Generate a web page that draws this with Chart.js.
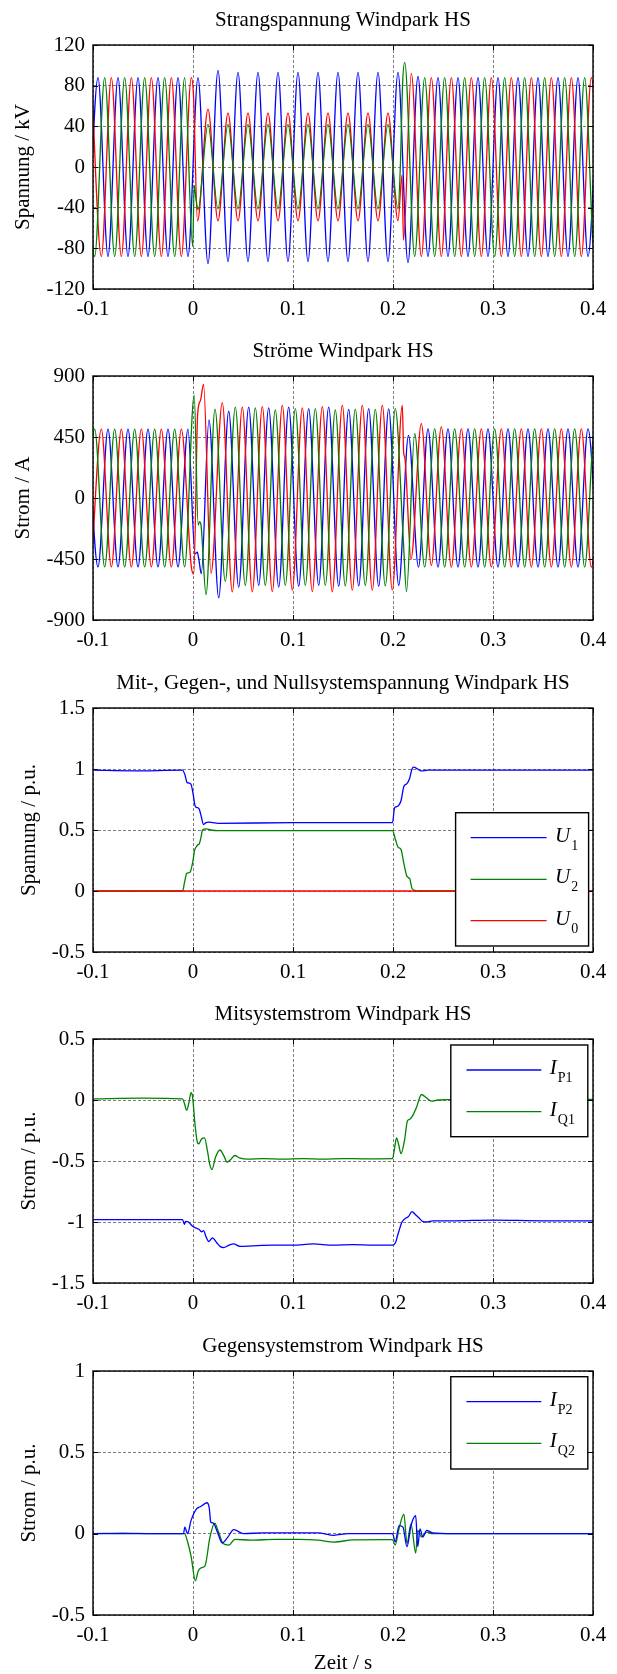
<!DOCTYPE html>
<html><head><meta charset="utf-8">
<script src="https://cdn.jsdelivr.net/npm/chart.js@4/dist/chart.umd.min.js"></script>
<style>
html,body{margin:0;padding:0;background:#fff;overflow:hidden;width:617px;height:1674px;position:relative;}
canvas{position:absolute;left:0;}
</style></head><body>
<canvas id="c1" width="617" height="331" style="top:0px;width:617px;height:331px"></canvas>
<canvas id="c2" width="617" height="332" style="top:331px;width:617px;height:332px"></canvas>
<canvas id="c3" width="617" height="331" style="top:663px;width:617px;height:331px"></canvas>
<canvas id="c4" width="617" height="332" style="top:994px;width:617px;height:332px"></canvas>
<canvas id="c5" width="617" height="348" style="top:1326px;width:617px;height:348px"></canvas>
<script>
// ---------- shared axis ticks ----------
const xTicks = [-0.1, 0, 0.1, 0.2, 0.3, 0.4];
const yTicks1 = [-120, -80, -40, 0, 40, 80, 120];
const yTicks2 = [-900, -450, 0, 450, 900];
const yTicks3 = [-0.5, 0, 0.5, 1, 1.5];
const yTicks4 = [-1.5, -1, -0.5, 0, 0.5];
const yTicks5 = [-0.5, 0, 0.5, 1];

// ---------- plot 1: Strangspannung (extrema of each phase, kV) ----------
const v1BlueT = [-0.105,-0.095,-0.085,-0.075,-0.065,-0.055,-0.045,-0.035,-0.025,-0.015,-0.005,0.005,0.015,0.025,0.035,0.045,0.055,0.065,0.075,0.085,0.095,0.105,0.115,0.125,0.135,0.145,0.155,0.165,0.175,0.185,0.195,0.205,0.215,0.225,0.235,0.245,0.255,0.265,0.275,0.285,0.295,0.305,0.315,0.325,0.335,0.345,0.355,0.365,0.375,0.385,0.395,0.405];
const v1BlueV = [-88,88,-88,88,-88,88,-88,88,-88,88,-88,88,-95,95,-93,93,-93,93,-93,93,-93,93,-93,93,-93,93,-93,93,-93,93,-93,93,-94,89,-88,88,-88,88,-88,88,-88,88,-88,88,-88,88,-88,88,-88,88,-88,88];
const v1RedT = [-0.10167,-0.09167,-0.08167,-0.07167,-0.06167,-0.05167,-0.04167,-0.03167,-0.02167,-0.01167,-0.00167,0.0005,0.0045,0.015,0.025,0.035,0.045,0.055,0.065,0.075,0.085,0.095,0.105,0.115,0.125,0.135,0.145,0.155,0.165,0.175,0.185,0.195,0.205,0.209,0.2105,0.2183,0.22833,0.23833,0.24833,0.25833,0.26833,0.27833,0.28833,0.29833,0.30833,0.31833,0.32833,0.33833,0.34833,0.35833,0.36833,0.37833,0.38833,0.39833,0.40833];
const v1RedV = [88,-88,88,-88,88,-88,88,-88,88,-88,88,70,-53,57,-53,53,-53,53,-53,53,-53,53,-53,53,-53,53,-53,53,-53,53,-53,53,-53,-8,-72,92,-88,88,-88,88,-88,88,-88,88,-88,88,-88,88,-88,88,-88,88,-88,88,-88];
const v1GreenT = [-0.10833,-0.09833,-0.08833,-0.07833,-0.06833,-0.05833,-0.04833,-0.03833,-0.02833,-0.01833,-0.00833,-0.0003,0.0012,0.0028,0.005,0.015,0.025,0.035,0.045,0.055,0.065,0.075,0.085,0.095,0.105,0.115,0.125,0.135,0.145,0.155,0.165,0.175,0.185,0.195,0.205,0.2075,0.2095,0.2117,0.22167,0.23167,0.24167,0.25167,0.26167,0.27167,0.28167,0.29167,0.30167,0.31167,0.32167,0.33167,0.34167,0.35167,0.36167,0.37167,0.38167,0.39167,0.40167,0.41167];
const v1GreenV = [88,-88,88,-88,88,-88,88,-88,88,-88,88,-78,-18,-30,-42,42,-41,42,-41,42,-41,42,-41,42,-41,42,-41,42,-41,42,-41,42,-41,42,-41,5,80,103,-88,88,-88,88,-88,88,-88,88,-88,88,-88,88,-88,88,-88,88,-88,88,-88,88];

// ---------- plot 2: Ströme (extrema of each phase, A) ----------
const i2BlueT = [-0.105,-0.095,-0.085,-0.075,-0.065,-0.055,-0.045,-0.035,-0.025,-0.015,-0.005,0.002,0.0043,0.006,0.0083,0.016,0.0257,0.0357,0.0457,0.0557,0.0657,0.0757,0.0857,0.0957,0.1057,0.1157,0.1257,0.1357,0.1457,0.1557,0.1657,0.1757,0.1857,0.1957,0.2057,0.2155,0.2255,0.235,0.245,0.255,0.265,0.275,0.285,0.295,0.305,0.315,0.325,0.335,0.345,0.355,0.365,0.375,0.385,0.395,0.405];
const i2BlueV = [508,-508,508,-508,508,-508,508,-508,508,-508,508,-410,-400,-460,-558,577,-737,640,-657,671,-645,665,-657,670,-650,660,-645,670,-650,654,-648,660,-650,658,-645,462,-509,510,-510,510,-510,510,-510,510,-510,510,-510,510,-510,510,-510,510,-510,510,-510];
const i2RedT = [-0.10167,-0.09167,-0.08167,-0.07167,-0.06167,-0.05167,-0.04167,-0.03167,-0.02167,-0.01167,-0.00167,0.0008,0.0047,0.0075,0.0105,0.018,0.0293,0.0393,0.0493,0.0593,0.0693,0.0793,0.0893,0.0993,0.1093,0.1193,0.1293,0.1393,0.1493,0.1593,0.1693,0.1793,0.1893,0.1993,0.2093,0.2107,0.2118,0.218,0.22833,0.23833,0.24833,0.25833,0.26833,0.27833,0.28833,0.29833,0.30833,0.31833,0.32833,0.33833,0.34833,0.35833,0.36833,0.37833,0.38833,0.39833,0.40833];
const i2RedV = [-508,508,-508,508,-508,508,-508,508,-508,508,-508,-560,622,720,838,-555,703,-693,671,-693,674,-690,684,-680,665,-690,674,-693,684,-680,684,-680,684,-679,684,330,300,-450,548,-497,524,-510,510,-510,510,-510,510,-510,510,-510,510,-510,510,-510,510,-510,510];
const i2GreenT = [-0.10833,-0.09833,-0.08833,-0.07833,-0.06833,-0.05833,-0.04833,-0.03833,-0.02833,-0.01833,-0.00833,0.0012,0.0052,0.0065,0.0078,0.013,0.022,0.0323,0.0423,0.0523,0.0623,0.0723,0.0823,0.0923,0.1023,0.1123,0.1223,0.1323,0.1423,0.1523,0.1623,0.1723,0.1823,0.1923,0.2023,0.2103,0.2135,0.22167,0.23167,0.24167,0.25167,0.26167,0.27167,0.28167,0.29167,0.30167,0.31167,0.32167,0.33167,0.34167,0.35167,0.36167,0.37167,0.38167,0.39167,0.40167,0.41167];
const i2GreenV = [-508,508,-508,508,-508,508,-508,508,-508,508,-508,758,-200,-175,-190,-713,656,-615,671,-645,665,-645,649,-645,660,-645,660,-645,649,-648,655,-645,654,-648,660,-310,-690,474,-510,510,-510,510,-510,510,-510,510,-510,510,-510,510,-510,510,-510,510,-510,510,-510];

// ---------- plot 3: Mit-, Gegen-, Nullsystemspannung (p.u.) ----------
const u1T = [-0.1,-0.06,-0.0105,-0.008,-0.006,-0.004,-0.002,0,0.002,0.0035,0.006,0.008,0.0105,0.013,0.016,0.02,0.025,0.1,0.1995,0.2015,0.203,0.2055,0.208,0.211,0.214,0.2165,0.219,0.2207,0.2247,0.228,0.235,0.4];
const u1V = [0.99,0.985,0.99,0.95,0.89,0.885,0.875,0.80,0.70,0.685,0.675,0.62,0.545,0.56,0.565,0.56,0.555,0.56,0.56,0.68,0.69,0.70,0.74,0.86,0.88,0.92,1.0,1.015,1.0,0.985,0.99,0.99];
const u2T = [-0.1,-0.0103,-0.0085,-0.0062,-0.004,-0.0025,0,0.0015,0.0044,0.0064,0.008,0.0095,0.013,0.018,0.025,0.1,0.1995,0.2025,0.205,0.208,0.211,0.214,0.2168,0.219,0.222,0.226,0.4];
const u2V = [0,0,0.07,0.145,0.15,0.16,0.25,0.33,0.375,0.39,0.44,0.5,0.51,0.5,0.495,0.495,0.495,0.42,0.36,0.34,0.22,0.12,0.1,0.02,0.005,0,0];
const u0T = [-0.1, 0.4];
const u0V = [0, 0];

// ---------- plot 4: Mitsystemstrom (p.u.) ----------
const ip1T = [-0.1,-0.05,-0.0105,-0.0085,-0.0075,-0.0045,-0.001,0.003,0.006,0.0085,0.0105,0.013,0.0158,0.0195,0.0237,0.027,0.0305,0.036,0.0405,0.047,0.06,0.08,0.1,0.12,0.14,0.16,0.18,0.1995,0.2025,0.205,0.209,0.2125,0.2155,0.219,0.2225,0.2258,0.2295,0.2335,0.24,0.26,0.3,0.35,0.4];
const ip1V = [-0.98,-0.98,-0.98,-1.02,-0.995,-1.0,-1.03,-1.05,-1.06,-1.08,-1.07,-1.12,-1.16,-1.13,-1.17,-1.2,-1.21,-1.19,-1.18,-1.2,-1.195,-1.19,-1.19,-1.18,-1.19,-1.185,-1.19,-1.19,-1.17,-1.1,-1.0,-0.97,-0.955,-0.915,-0.94,-0.965,-0.995,-1.0,-0.99,-0.99,-0.985,-0.99,-0.99];
const iq1T = [-0.1,-0.05,-0.0105,-0.0085,-0.0063,-0.004,-0.002,-0.0005,0.002,0.0045,0.0058,0.0085,0.0115,0.0145,0.0168,0.019,0.0225,0.0268,0.031,0.034,0.0375,0.0418,0.0465,0.055,0.07,0.09,0.11,0.13,0.15,0.17,0.1995,0.2015,0.2035,0.2055,0.208,0.2115,0.2145,0.2165,0.2195,0.2235,0.2285,0.233,0.2384,0.245,0.27,0.32,0.4];
const iq1V = [0.01,0.015,0.01,-0.03,-0.085,-0.02,0.06,0.03,-0.2,-0.35,-0.36,-0.32,-0.31,-0.42,-0.53,-0.57,-0.47,-0.41,-0.46,-0.51,-0.49,-0.455,-0.475,-0.485,-0.48,-0.485,-0.48,-0.485,-0.48,-0.482,-0.48,-0.40,-0.31,-0.36,-0.44,-0.33,-0.17,-0.16,-0.13,-0.06,0.045,0.02,-0.01,0.0,0.005,0.005,0.005];

// ---------- plot 5: Gegensystemstrom (p.u.) ----------
const ip2T = [-0.1,-0.07,-0.04,-0.0095,-0.0082,-0.0068,-0.0054,-0.002,0.0032,0.0072,0.0119,0.0139,0.0162,0.0178,0.0202,0.025,0.0292,0.035,0.0407,0.0505,0.07,0.1,0.125,0.141,0.155,0.19,0.1995,0.2022,0.2061,0.21,0.214,0.218,0.2227,0.2247,0.227,0.2298,0.2337,0.2396,0.26,0.3,0.35,0.4];
const ip2V = [0,0,0,0.0,0.04,0.02,0.0,0.08,0.15,0.165,0.185,0.19,0.16,0.07,0.065,0.0,-0.057,-0.02,0.025,0.0,0.005,0.005,0.005,-0.01,0.0,0.0,0.0,-0.05,0.05,0.04,-0.08,0.05,0.11,-0.08,0.03,-0.02,0.02,0.005,0,0,0,0];
const iq2T = [-0.1,-0.07,-0.04,-0.0086,-0.0054,-0.0019,0.0024,0.0052,0.008,0.0119,0.017,0.0217,0.025,0.03,0.036,0.0418,0.058,0.082,0.1057,0.125,0.141,0.16,0.196,0.1995,0.2022,0.206,0.2109,0.214,0.218,0.2227,0.2247,0.2286,0.2337,0.2396,0.27,0.32,0.4];
const iq2V = [0,0.003,0,0,-0.05,-0.14,-0.29,-0.23,-0.21,-0.2,-0.02,0.065,0.02,-0.06,-0.07,-0.035,-0.04,-0.035,-0.035,-0.04,-0.052,-0.038,-0.037,-0.037,-0.07,0.03,0.12,-0.06,0.06,-0.12,0.02,-0.02,0.01,0,0,0,0];

// ---------- legend labels ----------
const legend3Main = ['U', 'U', 'U'];
const legend3Sub = ['1', '2', '0'];
const legend4Main = ['I', 'I'];
const legend4Sub = ['P1', 'Q1'];
const legend5Main = ['I', 'I'];
const legend5Sub = ['P2', 'Q2'];

// ---------- rendering ----------
const FONT = "'Liberation Serif','Times New Roman',serif";
const BLUE = '#0000ff', GREEN = '#008000', RED = '#ff0000';

function pts(t, v) { return t.map((x, i) => ({ x: x, y: v[i] })); }

function ds(label, t, v, color, order) {
  return {
    label: label, data: pts(t, v), borderColor: color, backgroundColor: color,
    borderWidth: 1.3, pointRadius: 0, fill: false, order: order,
    cubicInterpolationMode: 'monotone', tension: 0
  };
}

const framePlugin = {
  id: 'frame',
  afterDraw(chart, args, opts) {
    const ctx = chart.ctx, a = chart.chartArea, sx = chart.scales.x, sy = chart.scales.y;
    ctx.save();
    ctx.setLineDash([]);
    ctx.strokeStyle = '#000';
    ctx.lineWidth = 1;
    const L = 5;
    sx.ticks.forEach(t => {
      const p = Math.round(sx.getPixelForValue(t.value)) + 0.5;
      ctx.beginPath();
      ctx.moveTo(p, a.bottom); ctx.lineTo(p, a.bottom - L);
      ctx.moveTo(p, a.top); ctx.lineTo(p, a.top + L);
      ctx.stroke();
    });
    sy.ticks.forEach(t => {
      const p = Math.round(sy.getPixelForValue(t.value)) + 0.5;
      ctx.beginPath();
      ctx.moveTo(a.left, p); ctx.lineTo(a.left + L, p);
      ctx.moveTo(a.right, p); ctx.lineTo(a.right - L, p);
      ctx.stroke();
    });
    ctx.lineWidth = 1.4;
    ctx.strokeRect(a.left, a.top, a.right - a.left, a.bottom - a.top);

    const lg = opts && opts.box;
    if (lg) {
      const bx = a.right - lg.right - lg.w;
      const by = lg.fromTop ? a.top + lg.top : a.bottom - lg.bottom - lg.h;
      ctx.fillStyle = '#fff';
      ctx.fillRect(bx, by, lg.w, lg.h);
      ctx.lineWidth = 1.4;
      ctx.strokeStyle = '#000';
      ctx.strokeRect(bx, by, lg.w, lg.h);
      lg.items.forEach((di, k) => {
        const y = by + lg.rows[k];
        const dset = chart.data.datasets[di];
        ctx.strokeStyle = dset.borderColor;
        ctx.lineWidth = 1.3;
        ctx.beginPath();
        ctx.moveTo(bx + lg.x0, y); ctx.lineTo(bx + lg.x1, y);
        ctx.stroke();
        ctx.fillStyle = '#000';
        ctx.textBaseline = 'alphabetic';
        ctx.textAlign = 'left';
        ctx.font = 'italic 21px ' + FONT;
        const tx = bx + lg.tx;
        ctx.fillText(lg.main[k], tx, y + 4);
        const w = ctx.measureText(lg.main[k]).width;
        ctx.font = '14px ' + FONT;
        ctx.fillText(lg.sub[k], tx + w + 1, y + 12);
      });
    }
    ctx.restore();
  }
};

function makeChart(id, cfg) {
  const H = cfg.H;
  const xh = cfg.xTitle ? 59 : 40;
  const gridCommon = { color: 'rgba(0,0,0,0.5)', lineWidth: 1, drawTicks: false };
  const tickFont = { family: FONT, size: 21, lineHeight: 1.2 };
  return new Chart(document.getElementById(id), {
    type: 'line',
    data: { datasets: cfg.datasets },
    plugins: [framePlugin],
    options: {
      responsive: false, animation: false, devicePixelRatio: 1, events: [],
      layout: { padding: { left: 0, right: 24, top: 0, bottom: H - 289 - xh } },
      plugins: {
        legend: { display: false },
        tooltip: { enabled: false },
        title: {
          display: true, text: cfg.title, fullSize: false, color: '#000',
          font: { family: FONT, size: 21, weight: 'normal', lineHeight: 1.2 },
          padding: { top: 8, bottom: 11.8 }
        },
        frame: { box: cfg.legend || null }
      },
      scales: {
        x: {
          type: 'linear', min: -0.1, max: 0.4,
          afterFit: s => { s.height = xh; },
          afterBuildTicks: ax => { ax.ticks = xTicks.map(v => ({ value: v })); },
          ticks: { font: tickFont, color: '#000', padding: 8, maxRotation: 0, autoSkip: false, callback: v => String(v) },
          grid: gridCommon,
          border: { display: false, dash: [3, 2] },
          title: cfg.xTitle ? { display: true, text: cfg.xTitle, color: '#000', font: { family: FONT, size: 21, lineHeight: 1 }, padding: { top: 0, bottom: 0 } } : { display: false }
        },
        y: {
          type: 'linear', min: cfg.yTicks[0], max: cfg.yTicks[cfg.yTicks.length - 1],
          afterFit: s => { s.width = 93; },
          afterBuildTicks: ax => { ax.ticks = cfg.yTicks.map(v => ({ value: v })); },
          ticks: { font: tickFont, color: '#000', padding: 8, autoSkip: false, callback: v => String(v) },
          grid: gridCommon,
          border: { display: false, dash: [3, 2] },
          title: { display: true, text: cfg.yTitle, color: '#000', font: { family: FONT, size: 21, lineHeight: 1.2 }, padding: { top: cfg.yTitlePad, bottom: 0 } }
        }
      }
    }
  });
}

makeChart('c1', {
  H: 331, title: 'Strangspannung Windpark HS', yTitle: 'Spannung / kV', yTitlePad: 10.4, yTicks: yTicks1,
  datasets: [
    ds('Phase L3', v1GreenT, v1GreenV, GREEN, 0),
    ds('Phase L2', v1RedT, v1RedV, RED, 1),
    ds('Phase L1', v1BlueT, v1BlueV, BLUE, 2)
  ]
});

makeChart('c2', {
  H: 332, title: 'Ströme Windpark HS', yTitle: 'Strom / A', yTitlePad: 10.4, yTicks: yTicks2,
  datasets: [
    ds('Phase L3', i2GreenT, i2GreenV, GREEN, 0),
    ds('Phase L2', i2RedT, i2RedV, RED, 1),
    ds('Phase L1', i2BlueT, i2BlueV, BLUE, 2)
  ]
});

makeChart('c3', {
  H: 331, title: 'Mit-, Gegen-, und Nullsystemspannung Windpark HS', yTitle: 'Spannung / p.u.', yTitlePad: 16.4, yTicks: yTicks3,
  datasets: [
    ds('U1', u1T, u1V, BLUE, 2),
    ds('U2', u2T, u2V, GREEN, 1),
    ds('U0', u0T, u0V, RED, 0)
  ],
  legend: { w: 133, h: 133.3, right: 4.4, bottom: 6, fromTop: false, rows: [25, 66.6, 108], x0: 15, x1: 91, tx: 99.5, items: [0, 1, 2], main: legend3Main, sub: legend3Sub }
});

makeChart('c4', {
  H: 332, title: 'Mitsystemstrom Windpark HS', yTitle: 'Strom / p.u.', yTitlePad: 16.4, yTicks: yTicks4,
  datasets: [
    ds('IP1', ip1T, ip1V, BLUE, 1),
    ds('IQ1', iq1T, iq1V, GREEN, 0)
  ],
  legend: { w: 137, h: 91.7, right: 5.2, top: 6, fromTop: true, rows: [25, 66.7], x0: 15.7, x1: 90.5, tx: 99, items: [0, 1], main: legend4Main, sub: legend4Sub }
});

makeChart('c5', {
  H: 348, title: 'Gegensystemstrom Windpark HS', yTitle: 'Strom / p.u.', yTitlePad: 16.4, yTicks: yTicks5, xTitle: 'Zeit / s',
  datasets: [
    ds('IP2', ip2T, ip2V, BLUE, 0),
    ds('IQ2', iq2T, iq2V, GREEN, 1)
  ],
  legend: { w: 137, h: 92.3, right: 5.2, top: 5.7, fromTop: true, rows: [25, 66.6], x0: 15.7, x1: 90.5, tx: 99, items: [0, 1], main: legend5Main, sub: legend5Sub }
});
</script>
</body></html>
